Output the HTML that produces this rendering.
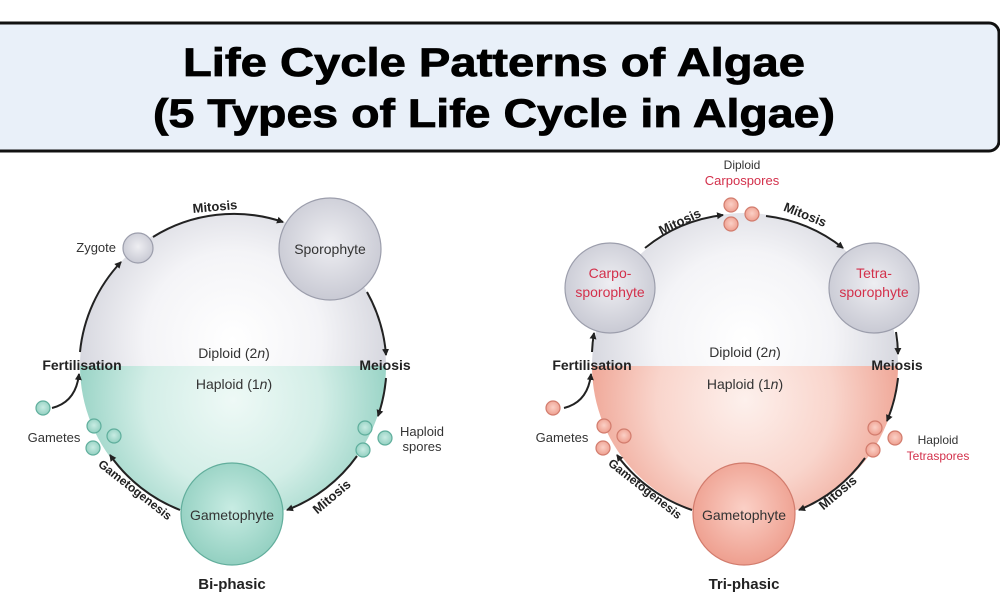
<!DOCTYPE html>
<html><head><meta charset="utf-8"><style>
html,body{margin:0;padding:0;background:#fff;}
svg{display:block;font-family:"Liberation Sans",Arial,sans-serif;}
</style></head><body>
<svg width="1000" height="600" viewBox="0 0 1000 600" xmlns="http://www.w3.org/2000/svg">
<defs>
<radialGradient id="gTopL" gradientUnits="userSpaceOnUse" cx="233" cy="340" r="160"><stop offset="0" stop-color="#ffffff"/><stop offset="0.55" stop-color="#f4f4f7"/><stop offset="1" stop-color="#d4d5dd"/></radialGradient>
<radialGradient id="gTopR" gradientUnits="userSpaceOnUse" cx="745" cy="340" r="160"><stop offset="0" stop-color="#ffffff"/><stop offset="0.55" stop-color="#f4f4f7"/><stop offset="1" stop-color="#d4d5dd"/></radialGradient>
<radialGradient id="gTeal" gradientUnits="userSpaceOnUse" cx="233" cy="400" r="160"><stop offset="0" stop-color="#eef9f6"/><stop offset="0.55" stop-color="#d3eee7"/><stop offset="1" stop-color="#96d2c4"/></radialGradient>
<radialGradient id="gPink" gradientUnits="userSpaceOnUse" cx="745" cy="400" r="160"><stop offset="0" stop-color="#fdf0ec"/><stop offset="0.55" stop-color="#f9d5cc"/><stop offset="1" stop-color="#efa595"/></radialGradient>
<radialGradient id="gSph" cx="0.5" cy="0.45" r="0.55"><stop offset="0" stop-color="#eeeef2"/><stop offset="1" stop-color="#c9cad4"/></radialGradient>
<radialGradient id="gTs" cx="0.5" cy="0.45" r="0.55"><stop offset="0" stop-color="#c8ece3"/><stop offset="1" stop-color="#93d0c1"/></radialGradient>
<radialGradient id="gPs" cx="0.5" cy="0.45" r="0.55"><stop offset="0" stop-color="#fbd0c6"/><stop offset="1" stop-color="#ee9f8f"/></radialGradient>
<marker id="ah" markerWidth="8" markerHeight="8" refX="6" refY="4" orient="auto" markerUnits="userSpaceOnUse"><path d="M0,0.5 L7,4 L0,7.5 Z" fill="#222"/></marker>
</defs>

<rect x="-10" y="23" width="1009" height="128" rx="10" fill="#e9f0f9" stroke="#111" stroke-width="3"/>
<text x="494" y="76" text-anchor="middle" font-size="40" font-weight="bold" fill="#000" stroke="#000" stroke-width="0.8" textLength="622" lengthAdjust="spacingAndGlyphs">Life Cycle Patterns of Algae</text>
<text x="494" y="127" text-anchor="middle" font-size="40" font-weight="bold" fill="#000" stroke="#000" stroke-width="0.8" textLength="682" lengthAdjust="spacingAndGlyphs">(5 Types of Life Cycle in Algae)</text>

<g>
<path d="M80,366 A153,153 0 0 1 386,366 Z" fill="url(#gTopL)"/>
<path d="M80,366 A153,153 0 0 0 386,366 Z" fill="url(#gTeal)"/>
<g fill="none" stroke="#222" stroke-width="2" marker-end="url(#ah)">
<path d="M153,237 A153,153 0 0 1 283,222"/>
<path d="M367,292 A153,153 0 0 1 386,355"/>
<path d="M386,378 A153,153 0 0 1 378,416"/>
<path d="M357,456 A153,153 0 0 1 287,510"/>
<path d="M180,510 A153,153 0 0 1 110,455"/>
<path d="M80,352 A153,153 0 0 1 121,262"/>
<path d="M52,408 Q76,402 79,374"/>
</g>
<circle cx="138" cy="248" r="15" fill="url(#gSph)" stroke="#9c9eac" stroke-width="1.2"/>
<circle cx="330" cy="249" r="51" fill="url(#gSph)" stroke="#9c9eac" stroke-width="1.2"/>
<circle cx="232" cy="514" r="51" fill="url(#gTs)" stroke="#62ae9c" stroke-width="1.2"/>
<g fill="url(#gTs)" stroke="#5fae9c" stroke-width="1.2">
<circle cx="43" cy="408" r="7"/><circle cx="94" cy="426" r="7"/><circle cx="114" cy="436" r="7"/><circle cx="93" cy="448" r="7"/>
<circle cx="365" cy="428" r="7"/><circle cx="385" cy="438" r="7"/><circle cx="363" cy="450" r="7"/>
</g>
<g font-size="13" fill="#333">
<text x="116" y="252" text-anchor="end">Zygote</text>
<text x="330" y="254" text-anchor="middle" font-size="14">Sporophyte</text>
<text x="234" y="358" text-anchor="middle" font-size="14">Diploid (2<tspan font-style="italic">n</tspan>)</text>
<text x="234" y="389" text-anchor="middle" font-size="14">Haploid (1<tspan font-style="italic">n</tspan>)</text>
<text x="54" y="442" text-anchor="middle">Gametes</text>
<text x="422" y="436" text-anchor="middle">Haploid</text>
<text x="422" y="451" text-anchor="middle">spores</text>
<text x="232" y="520" text-anchor="middle" font-size="14">Gametophyte</text>
</g>
<g font-weight="bold" fill="#222">
<text x="215" y="211" text-anchor="middle" font-size="13" transform="rotate(-5 215 207)">Mitosis</text>
<text x="82" y="370" text-anchor="middle" font-size="14">Fertilisation</text>
<text x="385" y="370" text-anchor="middle" font-size="14">Meiosis</text>
<text x="332" y="501" text-anchor="middle" font-size="13" transform="rotate(-40 332 497)">Mitosis</text>
<text x="135" y="494" text-anchor="middle" font-size="12" transform="rotate(38 135 490)">Gametogenesis</text>
<text x="232" y="589" text-anchor="middle" font-size="15">Bi-phasic</text>
</g>
</g>

<g>
<path d="M592,366 A153,153 0 0 1 898,366 Z" fill="url(#gTopR)"/>
<path d="M592,366 A153,153 0 0 0 898,366 Z" fill="url(#gPink)"/>
<g fill="none" stroke="#222" stroke-width="2" marker-end="url(#ah)">
<path d="M645,248 A153,153 0 0 1 723,215"/>
<path d="M766,216 A153,153 0 0 1 843,248"/>
<path d="M896,332 A153,153 0 0 1 898,354"/>
<path d="M898,378 A153,153 0 0 1 887,421"/>
<path d="M865,458 A153,153 0 0 1 799,510"/>
<path d="M692,510 A153,153 0 0 1 617,455"/>
<path d="M592,352 A153,153 0 0 1 594,333"/>
<path d="M564,408 Q588,402 591,374"/>
</g>
<circle cx="610" cy="288" r="45" fill="url(#gSph)" stroke="#9c9eac" stroke-width="1.2"/>
<circle cx="874" cy="288" r="45" fill="url(#gSph)" stroke="#9c9eac" stroke-width="1.2"/>
<circle cx="744" cy="514" r="51" fill="url(#gPs)" stroke="#d27c6d" stroke-width="1.2"/>
<g fill="url(#gPs)" stroke="#d27c6d" stroke-width="1.2">
<circle cx="731" cy="205" r="7"/><circle cx="752" cy="214" r="7"/><circle cx="731" cy="224" r="7"/>
<circle cx="553" cy="408" r="7"/><circle cx="604" cy="426" r="7"/><circle cx="624" cy="436" r="7"/><circle cx="603" cy="448" r="7"/>
<circle cx="875" cy="428" r="7"/><circle cx="895" cy="438" r="7"/><circle cx="873" cy="450" r="7"/>
</g>
<g font-size="13" fill="#333">
<text x="742" y="169" text-anchor="middle" font-size="12">Diploid</text>
<text x="742" y="185" text-anchor="middle" fill="#d3304b">Carpospores</text>
<text x="610" y="278" text-anchor="middle" font-size="14" fill="#d3304b">Carpo-</text>
<text x="610" y="297" text-anchor="middle" font-size="14" fill="#d3304b">sporophyte</text>
<text x="874" y="278" text-anchor="middle" font-size="14" fill="#d3304b">Tetra-</text>
<text x="874" y="297" text-anchor="middle" font-size="14" fill="#d3304b">sporophyte</text>
<text x="745" y="357" text-anchor="middle" font-size="14">Diploid (2<tspan font-style="italic">n</tspan>)</text>
<text x="745" y="389" text-anchor="middle" font-size="14">Haploid (1<tspan font-style="italic">n</tspan>)</text>
<text x="562" y="442" text-anchor="middle">Gametes</text>
<text x="938" y="444" text-anchor="middle" font-size="12">Haploid</text>
<text x="938" y="460" text-anchor="middle" font-size="12" fill="#d3304b">Tetraspores</text>
<text x="744" y="520" text-anchor="middle" font-size="14">Gametophyte</text>
</g>
<g font-weight="bold" fill="#222">
<text x="680" y="226" text-anchor="middle" font-size="13" transform="rotate(-25 680 222)">Mitosis</text>
<text x="805" y="219" text-anchor="middle" font-size="13" transform="rotate(22 805 215)">Mitosis</text>
<text x="592" y="370" text-anchor="middle" font-size="14">Fertilisation</text>
<text x="897" y="370" text-anchor="middle" font-size="14">Meiosis</text>
<text x="838" y="497" text-anchor="middle" font-size="13" transform="rotate(-40 838 493)">Mitosis</text>
<text x="645" y="493" text-anchor="middle" font-size="12" transform="rotate(38 645 489)">Gametogenesis</text>
<text x="744" y="589" text-anchor="middle" font-size="15">Tri-phasic</text>
</g>
</g>
</svg>
</body></html>
